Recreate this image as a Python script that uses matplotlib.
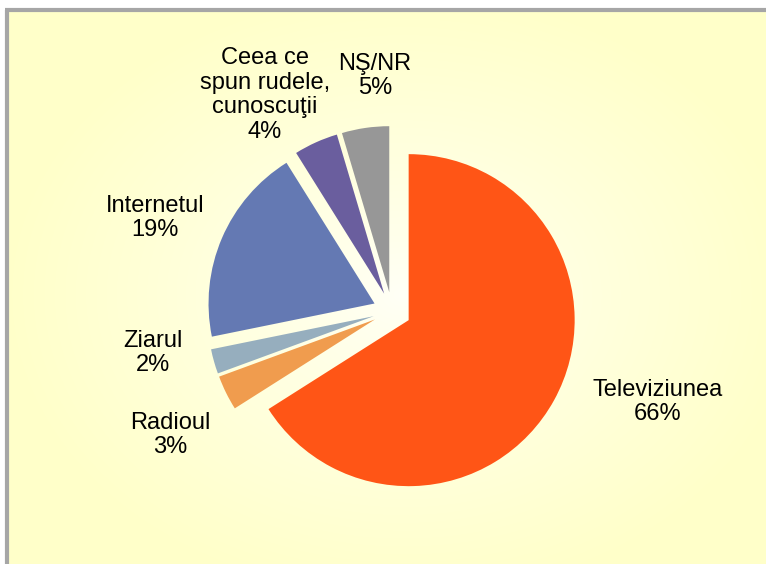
import numpy as np
import matplotlib
matplotlib.use("Agg")
import matplotlib.pyplot as plt

# date
categorii = ['Televiziunea', 'Radioul', 'Ziarul', 'Internetul',
             'Ceea ce\nspun rudele,\ncunoscuţii', 'NŞ/NR']
procente = [66.0, 3.4, 2.4, 19.3, 4.3, 4.6]
culori = ['#FF5516', '#F09C4E', '#96AEBE', '#6479B3', '#6A5E9E', '#979797']

# pozitii etichete (pixeli, colt stanga-sus)
pozitii_etichete = [(658, 402), (170, 435), (153, 353), (155, 218), (265, 95), (375, 76)]

W, H = 766, 564
plt.rcParams['font.family'] = ['Liberation Sans', 'DejaVu Sans']

fig = plt.figure(figsize=(W / 100, H / 100), dpi=100)
ax = fig.add_axes([0, 0, 1, 1])

# fundal cu gradient radial (alb in centru, galben spre margini)
yy, xx = np.mgrid[0:H, 0:W]
d = np.sqrt(((xx - 400) / 400.0) ** 2 + ((yy - 290) / 310.0) ** 2)
d = np.clip(d, 0, 1) ** 0.8
c0 = np.array([1.0, 1.0, 0.97])
c1 = np.array([1.0, 1.0, 0.79])
img = c0 + (c1 - c0) * d[..., None]
ax.imshow(img, extent=(6, W, 0, H - 9), origin='upper', zorder=0, aspect='auto')

# chenar gri (stanga si sus)
ax.plot([6.5, 6.5], [0, H - 9.5], color='#A6A6A6', lw=3, zorder=1,
        solid_capstyle='butt')
ax.plot([5, W], [H - 9.5, H - 9.5], color='#A6A6A6', lw=3, zorder=1,
        solid_capstyle='butt')

centru = (392, H - 311)
raza = 166
ax.pie(procente, colors=culori, startangle=90, counterclock=False,
       explode=[19] * len(procente), radius=raza, center=centru,
       frame=True, wedgeprops=dict(linewidth=0))
ax.set_xlim(0, W)
ax.set_ylim(0, H)
ax.set_aspect('auto')
ax.axis('off')

for nume, p, (px, py) in zip(categorii, procente, pozitii_etichete):
    ax.text(px, H - py, f'{nume}\n{round(p):d}%', ha='center', va='center',
            fontsize=17, color='black', linespacing=1.17, zorder=5)

fig.savefig('out.png', dpi=100)
